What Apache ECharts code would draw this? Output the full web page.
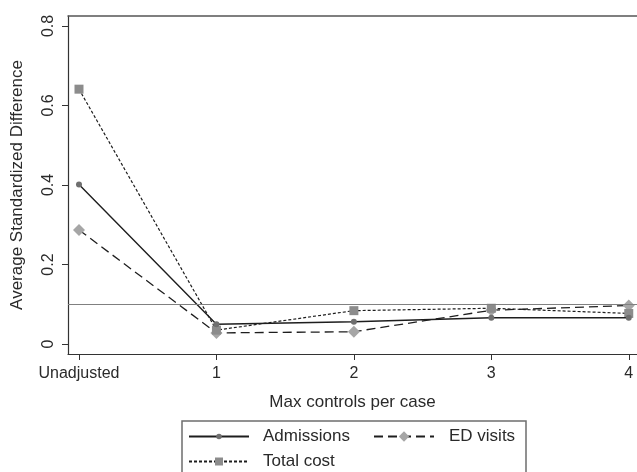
<!DOCTYPE html>
<html>
<head>
<meta charset="utf-8">
<script src="https://cdn.jsdelivr.net/npm/echarts@6/dist/echarts.min.js"></script>
<style>
  html, body { margin: 0; padding: 0; background: #fff; }
  #chart { width: 637px; height: 472px; }
</style>
</head>
<body>
<div id="chart"></div>
<script>
// x positions and their tick labels
const xLabels = ['Unadjusted', '1', '2', '3', '4'];
const xPos = [0, 1, 2, 3, 4];
const yTicks = [0, 0.2, 0.4, 0.6, 0.8];

// average standardized difference per series
const admissions = [0.401, 0.050, 0.056, 0.066, 0.066];
const edVisits = [0.287, 0.028, 0.031, 0.085, 0.097];
const totalCost = [0.641, 0.035, 0.084, 0.090, 0.077];
const refLine = 0.1;

const lineColor = '#1e1e1e';
const fontColor = '#2a2a2a';
const fontFam = 'Liberation Sans, Arial, sans-serif';

function pairs(vals) {
  return xPos.map((x, i) => [x, vals[i]]);
}

// one legend block per entry so each marker keeps its own size
function legendBlock(name, left, top, h, pad) {
  return {
    data: [name],
    orient: 'vertical',
    left: left,
    top: top,
    padding: 0,
    itemWidth: 60,
    itemHeight: h,
    textStyle: { color: fontColor, fontSize: 17, lineHeight: 17, padding: [0, 0, 0, pad] }
  };
}

let chart = echarts.init(document.getElementById('chart'));
let option = {
  backgroundColor: '#fff',
  animation: false,
  textStyle: { fontFamily: fontFam },
  grid: {
    left: 68, top: 16, right: 0, bottom: 118,
    outerBoundsMode: 'none'
  },
  xAxis: [
    {
      type: 'value',
      min: -0.08,
      max: 4.06,
      name: 'Max controls per case',
      nameLocation: 'middle',
      nameGap: 40,
      nameTextStyle: { color: fontColor, fontSize: 17, fontFamily: fontFam },
      splitLine: { show: false },
      axisLine: { show: true, onZero: false, lineStyle: { color: '#333', width: 1.2 } },
      axisTick: {
        show: true, length: 6, customValues: xPos,
        lineStyle: { color: '#333', width: 1 }
      },
      axisLabel: {
        customValues: xPos,
        margin: 12,
        color: fontColor,
        fontSize: 16,
        formatter: function (v) { return xLabels[Math.round(v)]; }
      }
    },
    { // top frame line
      type: 'value',
      position: 'top',
      min: -0.08,
      max: 4.06,
      splitLine: { show: false },
      axisLine: { show: true, onZero: false, lineStyle: { color: '#555', width: 1.5 } },
      axisTick: { show: false },
      axisLabel: { show: false }
    }
  ],
  yAxis: {
    type: 'value',
    min: -0.025,
    max: 0.825,
    name: 'Average Standardized Difference',
    nameLocation: 'middle',
    nameGap: 42,
    nameTextStyle: { color: fontColor, fontSize: 17, fontFamily: fontFam },
    splitLine: { show: false },
    axisLine: { show: true, onZero: false, lineStyle: { color: '#333', width: 1.2 } },
    axisTick: {
      show: true, length: 6, customValues: yTicks,
      lineStyle: { color: '#333', width: 1 }
    },
    axisLabel: {
      customValues: yTicks,
      rotate: 90,
      margin: 11,
      color: fontColor,
      fontSize: 16,
      formatter: function (v) { return v === 0 ? '0' : v.toFixed(1); }
    }
  },
  legend: [
    legendBlock('Admissions', 188, 428, 7, 9),
    legendBlock('Total cost', 188, 453, 10, 9),
    legendBlock('ED visits', 373, 428, 13, 10)
  ],
  graphic: [
    { // legend frame
      type: 'rect',
      shape: { x: 182, y: 421, width: 344, height: 70 },
      style: { fill: 'none', stroke: '#6e6e6e', lineWidth: 1.5 },
      silent: true
    }
  ],
  series: [
    {
      name: 'Admissions',
      type: 'line',
      data: pairs(admissions),
      symbol: 'circle',
      symbolSize: 6,
      z: 4,
      lineStyle: { color: lineColor, width: 1.4, type: 'solid' },
      itemStyle: { color: '#6f6f6f', borderWidth: 0 },
      markLine: {
        silent: true,
        symbol: ['none', 'none'],
        label: { show: false },
        lineStyle: { color: '#808080', width: 1.2, type: 'solid' },
        data: [{ yAxis: refLine }]
      }
    },
    {
      name: 'ED visits',
      type: 'line',
      data: pairs(edVisits),
      symbol: 'diamond',
      symbolSize: 12,
      z: 3,
      lineStyle: { color: lineColor, width: 1.3, type: [9, 5] },
      itemStyle: { color: '#a6a6a6', borderWidth: 0 }
    },
    {
      name: 'Total cost',
      type: 'line',
      data: pairs(totalCost),
      symbol: 'rect',
      symbolSize: 9,
      z: 3,
      lineStyle: { color: lineColor, width: 1.2, type: [3, 2] },
      itemStyle: { color: '#8c8c8c', borderWidth: 0 }
    }
  ]
};
chart.setOption(option);
window.addEventListener('resize', function () {
  chart.resize();
});
</script>
</body>
</html>
